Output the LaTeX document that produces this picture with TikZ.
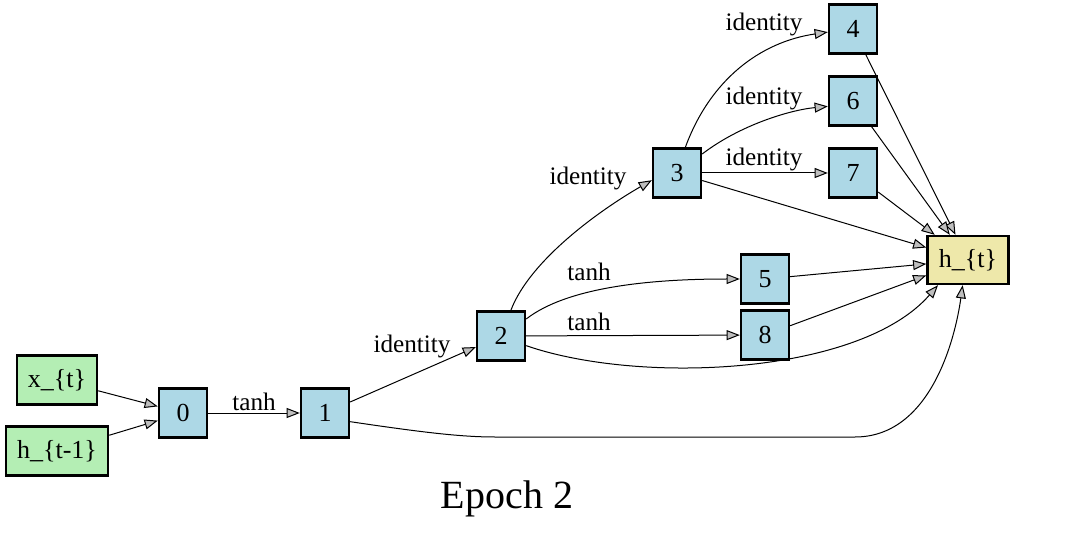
\documentclass[tikz,border=0pt]{standalone}
\usepackage{fontspec}
\setmainfont{Liberation Serif}
\usetikzlibrary{arrows.meta}
\definecolor{boxblue}{HTML}{ADD8E6}
\definecolor{boxgreen}{HTML}{B4EEB4}
\definecolor{boxyellow}{HTML}{EEE8AA}
\definecolor{tipgray}{HTML}{BEBEBE}
\begin{document}
\begin{tikzpicture}[x=0.5pt,y=-0.5pt,
  base/.style={draw, line width=1.2pt, inner sep=0pt, minimum height=24.5pt,
    font=\fontsize{13}{15}\selectfont},
  op/.style={base, fill=boxblue, minimum width=24pt},
  inp/.style={base, fill=boxgreen},
  outp/.style={base, fill=boxyellow},
  lbl/.style={inner sep=0pt, font=\fontsize{12.6}{14}\selectfont},
  edge/.style={line width=0.5pt, -{Triangle[length=6.6pt,width=5pt,fill=tipgray]}}
]
\fill[white] (0,0) rectangle (1080,550);
\useasboundingbox (0,0) rectangle (1080,550);

% input nodes
\node[inp, minimum width=40pt] (xt) at (57,380) {x\_\{t\}};
\node[inp, minimum width=51pt] (htm1) at (57,451) {h\_\{t-1\}};
% operation nodes
\node[op] (n0) at (183,413) {0};
\node[op] (n1) at (325,413) {1};
\node[op] (n2) at (501,336) {2};
\node[op] (n3) at (677,173) {3};
\node[op] (n4) at (853,29) {4};
\node[op] (n6) at (853,101) {6};
\node[op] (n7) at (853,173) {7};
\node[op] (n5) at (765,279) {5};
\node[op] (n8) at (765,335) {8};
% output node
\node[outp, minimum width=40.5pt, minimum height=24pt] (ht) at (968,260) {h\_\{t\}};

% edge labels
\node[lbl] (l01) at (254,402) {tanh};
\node[lbl] (l12) at (412,346) {identity};
\node[lbl] (l23) at (588,178) {identity};
\node[lbl] (l34) at (764,24) {identity};
\node[lbl] (l36) at (764,98) {identity};
\node[lbl] (l37) at (764,159) {identity};
\node[lbl] (l25) at (589,272) {tanh};
\node[lbl] (l28) at (589,322) {tanh};

% connectors
\draw[edge] (xt) -- (n0);
\draw[edge] (htm1) -- (n0);
\draw[edge] (n0) -- (n1);
\draw[edge] (n1) -- (n2);
\draw[edge] (n1.-19) .. controls (420,432) and (460,437) .. (495,437)
  -- (855,437) .. controls (930,437) and (955,340) .. (ht.258);
\draw[edge] (n2.69) .. controls (530,260) and (600,210) .. (n3.196);
\draw[edge] (n2.34) .. controls (570,285) and (660,279) .. (n5.west);
\draw[edge] (n2) -- (n8);
\draw[edge] (n2.-21) .. controls (640,385) and (860,375) .. (ht.220);
\draw[edge] (n3.72) .. controls (710,80) and (760,42) .. (n4.187);
\draw[edge] (n3.37) .. controls (740,125) and (790,110) .. (n6.192);
\draw[edge] (n3) -- (n7);
\draw[edge] (n3) -- (ht);
\draw[edge] (n4) -- (ht);
\draw[edge] (n6) -- (ht);
\draw[edge] (n7) -- (ht);
\draw[edge] (n5) -- (ht);
\draw[edge] (n8) -- (ht);

% caption
\node[inner sep=0pt, font=\fontsize{20}{24}\selectfont] (title) at (507,499) {Epoch 2};
\end{tikzpicture}
\end{document}
